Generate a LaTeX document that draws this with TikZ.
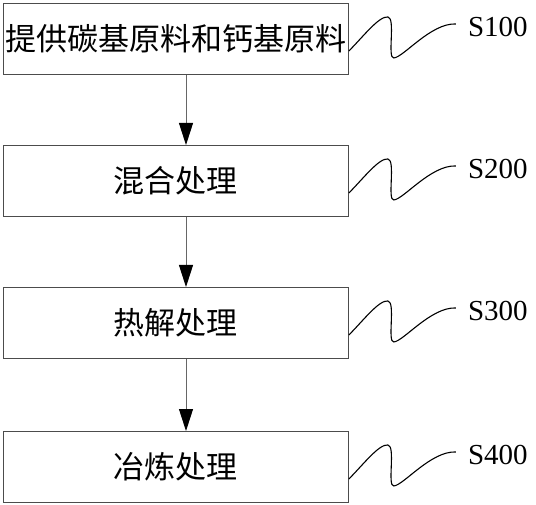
\documentclass[tikz,border=0pt]{standalone}
\usepackage{fontspec}
\setmainfont{Liberation Serif}
\newfontfamily\cjk{Noto Sans CJK SC}
\usetikzlibrary{calc,arrows.meta}
\begin{document}
\begin{tikzpicture}[x=1pt,y=-1pt,
  stepbox/.style={draw=black!70,line width=0.9pt,minimum width=345pt,minimum height=71pt,inner sep=0pt,
    font=\cjk\fontsize{31}{31}\selectfont},
  lab/.style={font=\fontsize{29}{29}\selectfont,inner sep=0pt,anchor=west},
  arr/.style={draw=black!60,line width=0.9pt,-{Triangle[length=22pt,width=14pt,fill=black,color=black]}},
  squig/.style={draw=black,line width=1.1pt}]
\useasboundingbox (0,0) rectangle (536,505);
\node[stepbox,anchor=north west] (b1) at (3,3) {提供碳基原料和钙基原料};
\node[stepbox,anchor=north west] (b2) at (3,145) {混合处理};
\node[stepbox,anchor=north west] (b3) at (3,287) {热解处理};
\node[stepbox,anchor=north west] (b4) at (3,431) {冶炼处理};
\coordinate (ax) at (186,0);
\draw[arr] (b1.south -| ax) -- (b2.north -| ax);
\draw[arr] (b2.south -| ax) -- (b3.north -| ax);
\draw[arr] (b3.south -| ax) -- (b4.north -| ax);
\foreach \b/\t in {b1/S100,b2/S200,b3/S300,b4/S400}{
  \node[lab] (l\b) at ($(\b.north east)+(119,24)$) {\t};
  \coordinate (s\b) at ($(\b.east)+(0,12)$);
  \begin{scope}[shift={(s\b)}]
    \draw[squig] (0,0) .. controls (14,-14) and (30,-35) .. (39,-34)
      .. controls (47,-33) and (38,8) .. (45,7)
      .. controls (55,6) and (82,-28) .. (107,-27);
  \end{scope}
}
\end{tikzpicture}
\end{document}
